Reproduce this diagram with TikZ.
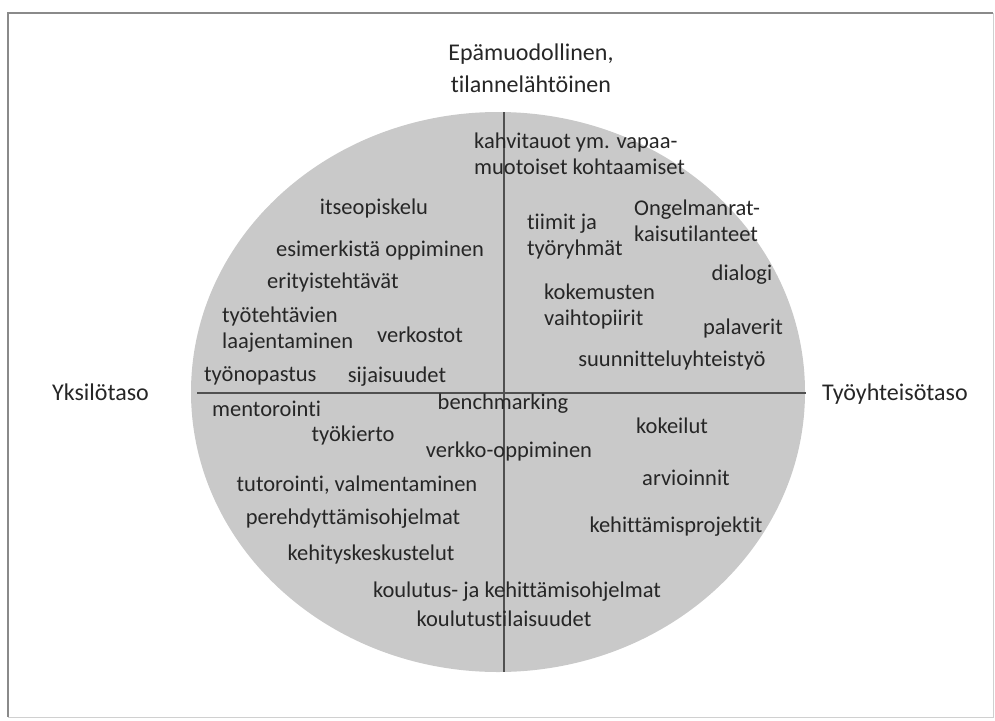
\documentclass[tikz,border=0pt]{standalone}
\usepackage{fontspec}
\setmainfont{Carlito}[Ligatures={NoCommon}]
\usetikzlibrary{shapes.geometric}
\definecolor{fillgray}{HTML}{C9C9C9}
\definecolor{txt}{HTML}{262626}
\definecolor{axis}{HTML}{505050}
\definecolor{framec}{HTML}{8A8A8A}
\begin{document}
\begin{tikzpicture}[x=1pt,y=-1pt,
  lbl/.style={font=\fontsize{22.5}{26}\selectfont, text=txt, inner sep=0pt},
  lblw/.style={lbl, anchor=west, align=left},
  ttl/.style={font=\fontsize{24}{32}\selectfont, text=black!85, inner sep=0pt, align=center}]
\useasboundingbox (0,0) rectangle (995,720);
% frame
\draw[framec, line width=1.6pt] (993,13) -- (8,13) -- (8,717);
\draw[framec!40, line width=1pt] (8,717) -- (993,717) -- (993,13);
% circle
\node[ellipse, fill=fillgray, minimum width=614, minimum height=560, inner sep=0pt, draw=none] (circ) at (498,392) {};
\coordinate (top) at (504,112);
\coordinate (bot) at (504,672);
\coordinate (lft) at (197,393);
\coordinate (rgt) at (806,393);
\draw[axis, line width=1.4pt] (top) -- (bot);
\draw[axis, line width=1.4pt] (lft) -- (rgt);
% titles
\node[ttl] (t1) at (531,68) {Epämuodollinen,\\tilannelähtöinen};
\node[ttl, anchor=west] (t2) at (52,392) {Yksilötaso};
\node[ttl, anchor=west] (t3) at (822,394) {Työyhteisötaso};
% upper left
\node[lblw] (a1) at (474,154) {kahvitauot ym. vapaa-\\muotoiset kohtaamiset};
\node[lbl] (a2) at (374,208) {itseopiskelu};
\node[lbl] (a3) at (380,250) {esimerkistä oppiminen};
\node[lblw] (a4) at (267,282) {erityistehtävät};
\node[lblw] (a5) at (222,330) {työtehtävien\\laajentaminen};
\node[lbl] (a6) at (420,335) {verkostot};
\node[lblw] (a7) at (204,376) {työnopastus};
\node[lbl] (a8) at (397,377) {sijaisuudet};
% upper right
\node[lblw] (b1) at (527,237) {tiimit ja\\työryhmät};
\node[lblw] (b2) at (634,221) {Ongelmanrat-\\kaisutilanteet};
\node[lbl] (b3) at (742,275) {dialogi};
\node[lblw] (b4) at (544,306) {kokemusten\\vaihtopiirit};
\node[lbl] (b5) at (743,328) {palaverit};
\node[lbl] (b6) at (672,360) {suunnitteluyhteistyö};
% lower
\node[lbl] (c1) at (503,404) {benchmarking};
\node[lblw] (c2) at (212,409) {mentorointi};
\node[lbl] (c3) at (353,435) {työkierto};
\node[lbl] (c4) at (672,426) {kokeilut};
\node[lbl] (c5) at (509,451) {verkko-oppiminen};
\node[lbl] (c6) at (357,485) {tutorointi, valmentaminen};
\node[lbl] (c7) at (686,478) {arvioinnit};
\node[lbl] (c8) at (353,519) {perehdyttämisohjelmat};
\node[lbl] (c9) at (676,527) {kehittämisprojektit};
\node[lbl] (c10) at (371,554) {kehityskeskustelut};
\node[lbl] (c11) at (517,592) {koulutus- ja kehittämisohjelmat};
\node[lbl] (c12) at (504,619) {koulutustilaisuudet};
\end{tikzpicture}
\end{document}
